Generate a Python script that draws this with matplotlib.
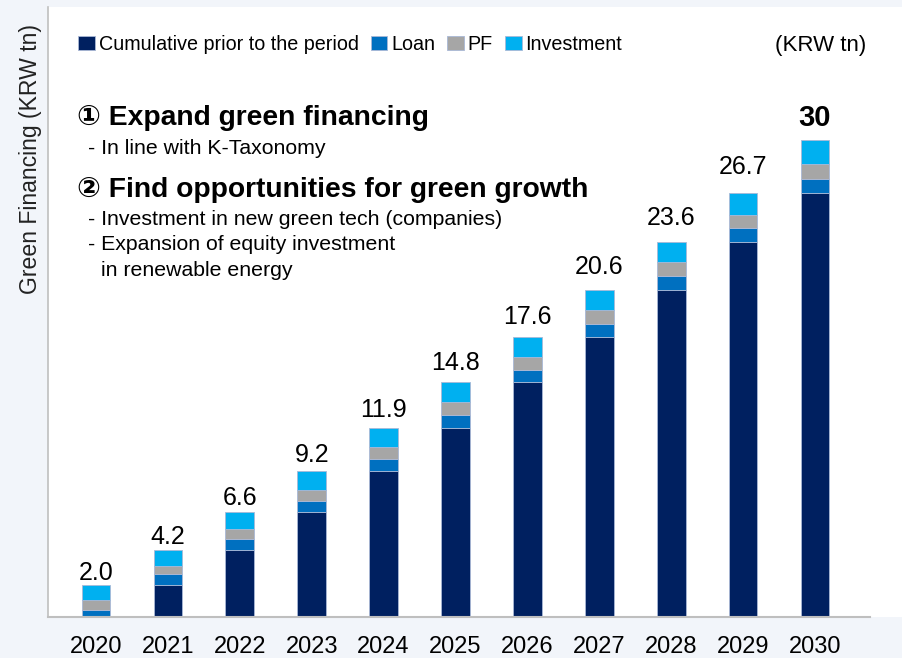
import matplotlib
matplotlib.use("Agg")
import matplotlib.pyplot as plt
import numpy as np

years = ["2020", "2021", "2022", "2023", "2024", "2025", "2026", "2027", "2028", "2029", "2030"]
totals = [2.0, 4.2, 6.6, 9.2, 11.9, 14.8, 17.6, 20.6, 23.6, 26.7, 30]
total_labels = ["2.0", "4.2", "6.6", "9.2", "11.9", "14.8", "17.6", "20.6", "23.6", "26.7", "30"]
cumulative = [0.0, 2.0, 4.2, 6.6, 9.2, 11.9, 14.8, 17.6, 20.6, 23.6, 26.7]
loan = [0.42, 0.72, 0.71, 0.69, 0.73, 0.82, 0.75, 0.86, 0.88, 0.86, 0.88]
pf = [0.65, 0.52, 0.65, 0.72, 0.78, 0.82, 0.84, 0.86, 0.86, 0.86, 0.92]
investment = [0.93, 0.96, 1.04, 1.19, 1.19, 1.26, 1.21, 1.28, 1.26, 1.38, 1.50]
series_names = ["Cumulative prior to the period", "Loan", "PF", "Investment"]

colors = ["#002060", "#0070C0", "#A6A6A6", "#00B0F0"]
FONT = ["Liberation Sans", "DejaVu Sans"]
plt.rcParams["font.family"] = FONT

fig = plt.figure(figsize=(9.02, 6.58), dpi=100, facecolor="#F2F5FA")
ax = fig.add_axes([48/902, 41/658, 854/902, 610/658])
ax.set_facecolor("white")

x = np.arange(len(years))
bottom = np.zeros(len(years))
for vals, c, name in zip([cumulative, loan, pf, investment], colors, series_names):
    ax.bar(x, vals, 0.4, bottom=bottom, color=c, edgecolor="#A9B8D6", linewidth=0.6, label=name, zorder=2)
    bottom += np.array(vals)

for i, (t, lab) in enumerate(zip(totals, total_labels)):
    if i == len(totals) - 1:
        ax.text(x[i], t + 0.9, lab, ha="center", va="baseline", fontsize=21, fontweight="bold", color="black")
    else:
        ax.text(x[i], t * 1.035 + 0.25, lab, ha="center", va="baseline", fontsize=18, color="black")

ax.set_xlim(-0.668, 11.21)
ax.set_ylim(0, 38.4)
ax.set_xticks(x)
ax.set_xticklabels(years, fontsize=17)
ax.tick_params(axis="x", length=0, pad=13.8)
ax.set_yticks([])
for s in ["top", "right"]:
    ax.spines[s].set_visible(False)
ax.spines["left"].set_color("#BFBFBF")
ax.spines["bottom"].set_color("#BFBFBF")
ax.spines["left"].set_linewidth(1.2)
ax.spines["bottom"].set_linewidth(1.5)
ax.spines["bottom"].set_bounds(-0.668, 10.77)

ax.set_ylabel("Green Financing (KRW tn)", fontsize=16.6, color="#222222")
ax.yaxis.set_label_coords(-6/854, 0.75)

leg = ax.legend(loc="upper left", bbox_to_anchor=(30/854, 1 - 28/610), ncol=4, frameon=False,
                fontsize=14.2, handlelength=0.85, handleheight=0.75, handletextpad=0.2,
                columnspacing=0.6, borderaxespad=0, borderpad=0)

fig.text(866/902, 1 - 45/658, "(KRW tn)", ha="right", va="center", fontsize=16)

fig.text(77/902, 1 - 118/658, "\u2460 Expand green financing", ha="left", va="center", fontsize=20.3, fontweight="bold")
fig.text(88/902, 1 - 149/658, "- In line with K-Taxonomy", ha="left", va="center", fontsize=15.3)
fig.text(77/902, 1 - 190/658, "\u2461 Find opportunities for green growth", ha="left", va="center", fontsize=20.3, fontweight="bold")
fig.text(88/902, 1 - 219/658, "- Investment in new green tech (companies)", ha="left", va="center", fontsize=15.3)
fig.text(88/902, 1 - 245/658, "- Expansion of equity investment", ha="left", va="center", fontsize=15.3)
fig.text(101/902, 1 - 271/658, "in renewable energy", ha="left", va="center", fontsize=15.3)

fig.savefig("out.png", dpi=100, facecolor=fig.get_facecolor())
